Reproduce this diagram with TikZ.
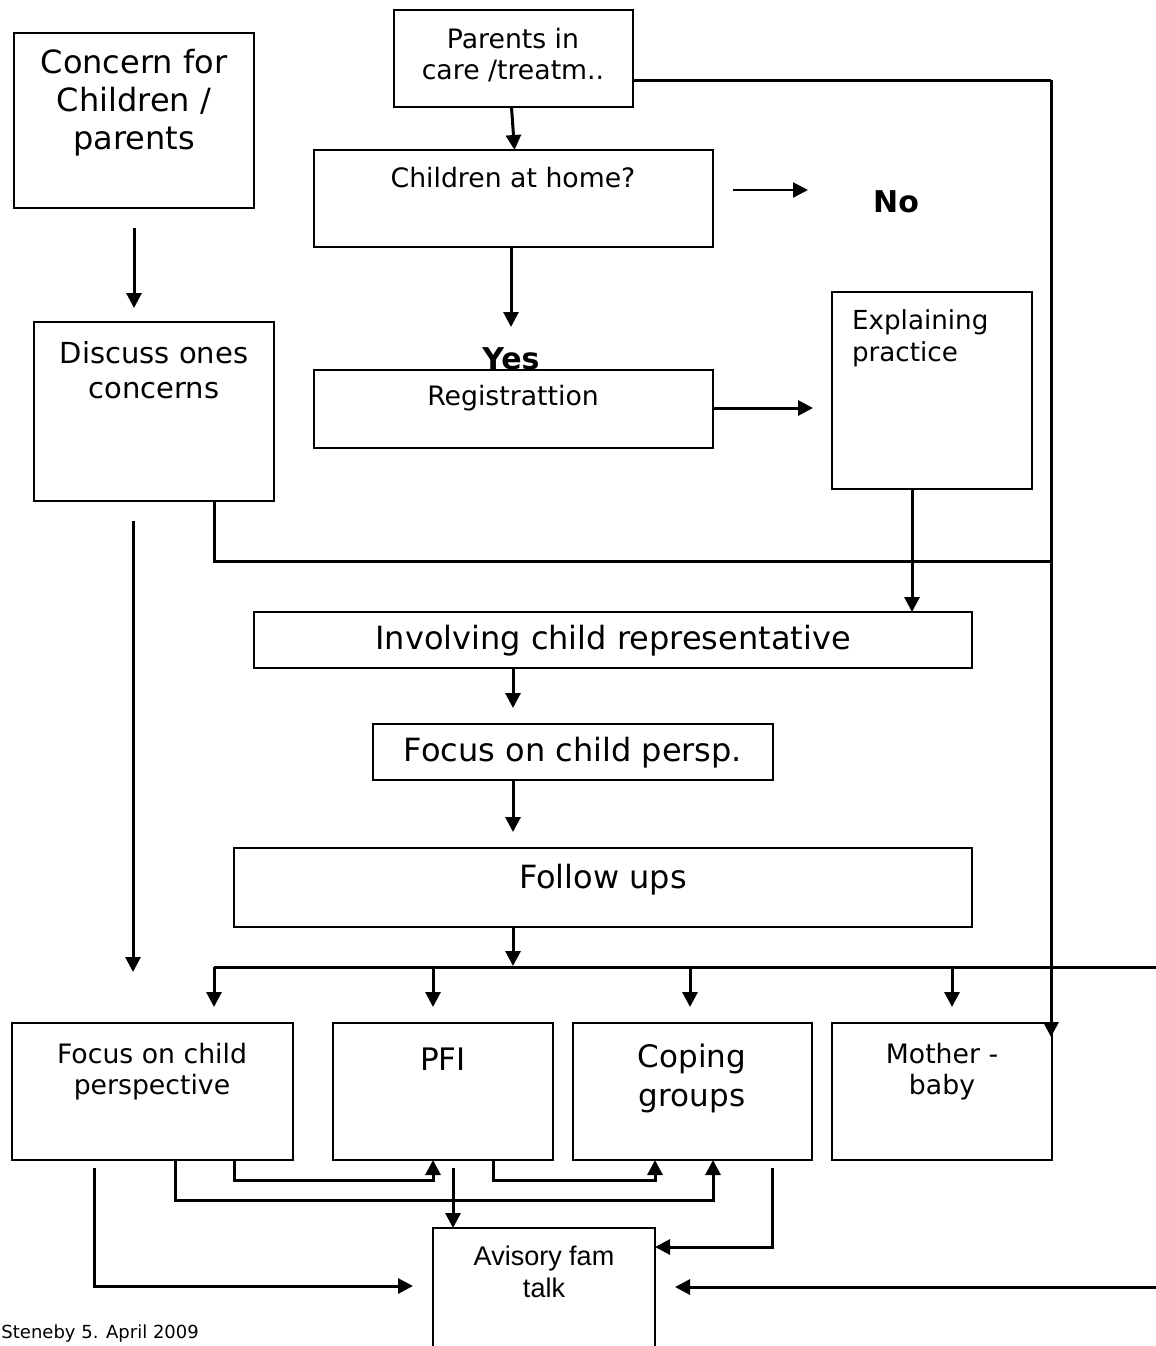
\documentclass[tikz,border=0pt]{standalone}
\usepackage{fontspec}
\setmainfont{DejaVu Sans}
\newfontfamily\arialf{Liberation Sans}
\usetikzlibrary{arrows.meta}
\begin{document}
\begin{tikzpicture}[x=1pt,y=-1pt,
  box/.style={draw, line width=2.8pt, inner sep=0pt, outer sep=0pt},
  txt/.style={inner sep=0pt, outer sep=0pt, align=center},
  conn/.style={line width=3pt},
  arr/.style={line width=3pt, -{Triangle[length=15pt,width=15pt]}},
  fA/.style={font=\fontsize{32}{38}\selectfont},
  fB/.style={font=\fontsize{26.7}{31}\selectfont},
  fC/.style={font=\fontsize{31}{39}\selectfont},
  fD/.style={font=\fontsize{29}{35}\selectfont}
]
\useasboundingbox (0,0) rectangle (1156,1346);
\clip (0,0) rectangle (1156,1346);
\fill[white] (0,0) rectangle (1156,1346);

% boxes
\node[box, minimum width=240pt, minimum height=175pt] (concern) at (134,120.5) {};
\node[box, minimum width=239pt, minimum height=97pt] (parents) at (513.5,58.5) {};
\node[box, minimum width=399pt, minimum height=97pt] (children) at (513.5,198.5) {};
\node[box, minimum width=399pt, minimum height=78pt] (reg) at (513.5,409) {};
\node[box, minimum width=200pt, minimum height=197pt] (explaining) at (932,390.5) {};
\node[box, minimum width=240pt, minimum height=179pt] (discuss) at (154,411.5) {};
\node[box, minimum width=718pt, minimum height=56pt] (involving) at (613,640) {};
\node[box, minimum width=400pt, minimum height=56pt] (focusp) at (573,752) {};
\node[box, minimum width=738pt, minimum height=79pt] (follow) at (603,887.5) {};
\node[box, minimum width=281pt, minimum height=137pt] (focusc) at (152.5,1091.5) {};
\node[box, minimum width=220pt, minimum height=137pt] (pfi) at (443,1091.5) {};
\node[box, minimum width=239pt, minimum height=137pt] (coping) at (692.5,1091.5) {};
\node[box, minimum width=220pt, minimum height=137pt] (mother) at (942,1091.5) {};
\node[box, minimum width=222pt, minimum height=132pt] (avis) at (544,1294) {};

% texts
\node[txt, fA] (tconcern) at (134,103) {Concern for\\Children /\\parents};
\node[txt, fB] (tparents) at (513,55.5) {Parents in\\care /treatm..};
\node[txt, fB] (tchildren) at (513,178) {Children at home?};
\node[txt, font=\fontsize{30}{36}\selectfont\bfseries] (no) at (896,202) {No};
\node[txt, font=\fontsize{30}{36}\selectfont\bfseries] (yes) at (511,359) {Yes};
\node[txt, fB] (treg) at (513,398) {Registrattion};
\node[txt, font=\fontsize{26.2}{32}\selectfont, align=left, anchor=west] (texpl) at (852,338) {Explaining\\practice};
\node[txt, fD] (tdiscuss) at (154,370.5) {Discuss ones\\concerns};
\node[txt, font=\fontsize{32}{36}\selectfont] (tinv) at (613,641) {Involving child representative};
\node[txt, fA] (tfocusp) at (573,753) {Focus on child persp.};
\node[txt, fA] (tfollow) at (603,880) {Follow ups};
\node[txt, fB] (tfocusc) at (152,1071.5) {Focus on child\\perspective};
\node[txt, fC] (tpfi) at (443,1059) {PFI};
\node[txt, fC] (tcoping) at (692,1078.5) {Coping\\groups};
\node[txt, fB] (tmother) at (942,1071.5) {Mother -\\baby};
\node[txt, font=\fontsize{27}{32}\selectfont\arialf] (tavis) at (544,1272) {Avisory fam\\talk};
\node[txt, font=\fontsize{18}{22}\selectfont, anchor=west] (date) at (1.5,1334) {Steneby 5. April 2009};

% coordinates
\coordinate (noend) at (808,190);
\coordinate (rtop) at (1051,80);
\coordinate (rmid) at (1051,561);
\coordinate (axis) at (513,0);
\coordinate (dtip) at (133,972);
\coordinate (ex) at ([xshift=-20pt]explaining.south);
\coordinate (bl) at (214,967);
\coordinate (br) at (1160,967);
\coordinate (b2) at (433,967);
\coordinate (b3) at (690,967);
\coordinate (b4) at (952,967);
\coordinate (redge) at (1160,1287);

% connectors top
\draw[arr] ([xshift=-2pt]parents.south) -- ([xshift=1pt]children.north);
\draw[arr, line width=2.2pt] ([shift={(20,-8.5)}]children.east) -- (noend);
\draw[arr] ([xshift=-2.5pt]children.south) -- ++(0,80);
\draw[arr] ([yshift=1pt]reg.east) -- ++(100,0);
\draw[conn] (parents.east |- rtop) -- (rtop);
\draw[arr] (rtop) -- ([xshift=-1pt,yshift=-14pt]mother.north east);
\draw[arr] (concern.south |- 0,228) -- ++(0,80);
\draw[conn] ([xshift=60pt]discuss.south) |- (rmid);
\draw[arr] ([shift={(-21,20)}]discuss.south) -- (dtip);
\draw[arr] (ex) -- (ex |- involving.north);
\draw[arr] (involving.south -| axis) -- ++(0,40);
\draw[arr] (focusp.south -| axis) -- ++(0,52);
\draw[arr] (follow.south -| axis) -- ++(0,39);

% branches
\draw[conn] (bl) -- (br);
\draw[arr] (bl) -- ++(0,40);
\draw[arr] (b2) -- ++(0,40);
\draw[arr] (b3) -- ++(0,40);
\draw[arr] (b4) -- ++(0,40);

% bottom connectors
\draw[arr] ([xshift=81.5pt]focusc.south) -- ++(0,20) -| ([xshift=-10pt]pfi.south);
\draw[arr] ([xshift=22.5pt]focusc.south) -- ++(0,40) -| ([xshift=20.5pt]coping.south);
\draw[arr] ([xshift=50pt]pfi.south) -- ++(0,20) -| ([xshift=-37.5pt]coping.south);
\draw[arr] ([shift={(10,8)}]pfi.south) -- ([xshift=-91pt]avis.north);
\draw[arr] ([shift={(79.5,8)}]coping.south) |- ([yshift=-19pt]avis.north east);
\draw[arr] ([shift={(-58.5,8)}]focusc.south) |- ([xshift=-20pt,yshift=-58pt]avis.north west);
\draw[arr] (redge) -- ([xshift=20pt,yshift=-59pt]avis.north east);
\end{tikzpicture}
\end{document}
